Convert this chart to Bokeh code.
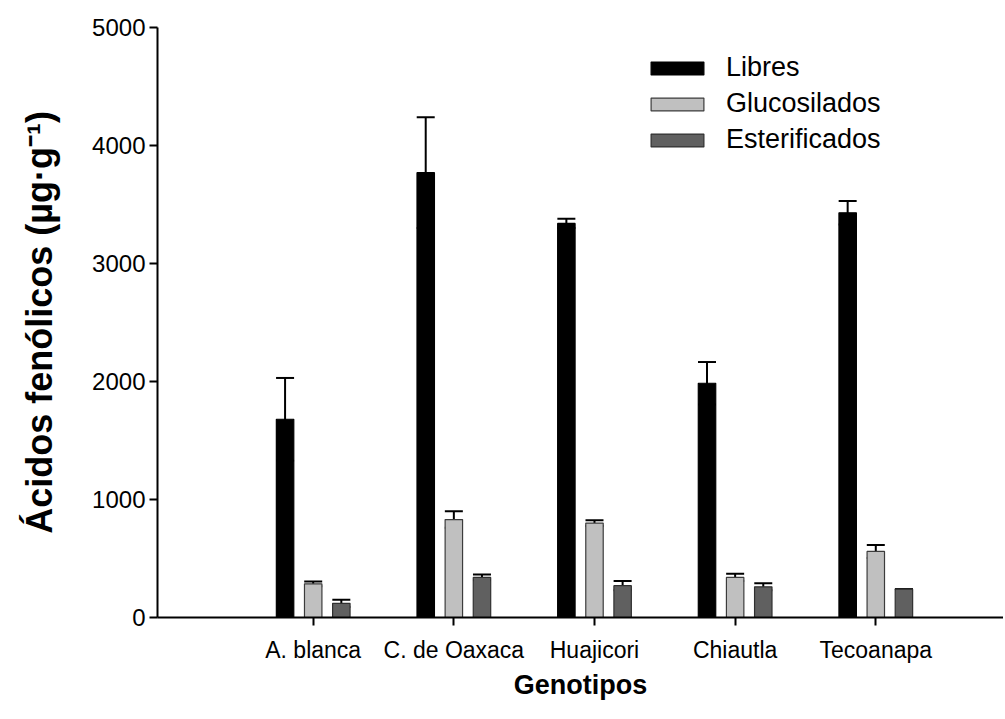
from bokeh.plotting import figure
from bokeh.models import Range1d, FixedTicker, Whisker, TeeHead, ColumnDataSource, Legend, LegendItem
from bokeh.embed import file_html
from bokeh.resources import INLINE

genotipos = ["A. blanca", "C. de Oaxaca", "Huajicori", "Chiautla", "Tecoanapa"]
series_names = ["Libres", "Glucosilados", "Esterificados"]
libres = [1680, 3770, 3340, 1985, 3430]
libres_err = [350, 470, 40, 180, 100]
glucosilados = [285, 830, 800, 340, 560]
glucosilados_err = [20, 70, 25, 30, 55]
esterificados = [120, 340, 270, 260, 240]
esterificados_err = [30, 25, 40, 30, 0]
y_ticks = [0, 1000, 2000, 3000, 4000, 5000]

FONT = "Liberation Sans"

p = figure(width=1003, height=715,
           x_range=Range1d(-1.107, 4.908), y_range=Range1d(0, 5000),
           output_backend="svg", toolbar_location=None,
           min_border_left=157, min_border_right=0,
           min_border_top=27, min_border_bottom=98)
p.outline_line_color = None
p.xgrid.visible = False
p.ygrid.visible = False
p.background_fill_color = "white"
p.border_fill_color = "white"

pos = list(range(len(genotipos)))
offsets = [-0.2, 0.0, 0.2]
fills = ["#000000", "#c0c0c0", "#606060"]
lines = ["#000000", "#3c3c3c", "#303030"]
values = [libres, glucosilados, esterificados]
errors = [libres_err, glucosilados_err, esterificados_err]

items = []
for name, off, fc, lc, vals, errs in zip(series_names, offsets, fills, lines, values, errors):
    xs = [i + off for i in pos]
    src = ColumnDataSource(dict(x=xs, top=vals,
                                upper=[v + e for v, e in zip(vals, errs)],
                                lower=[v - e for v, e in zip(vals, errs)]))
    r = p.vbar(x="x", top="top", bottom=0, width=0.124, source=src,
               fill_color=fc, line_color=lc, line_width=1.2)
    items.append(LegendItem(label=name, renderers=[r]))
    w = Whisker(base="x", upper="upper", lower="lower", source=src,
                dimension="height", line_color="black", line_width=2,
                upper_head=TeeHead(size=18, line_color="black", line_width=2),
                lower_head=TeeHead(size=18, line_color="black", line_width=2))
    p.add_layout(w)

# axes
p.xaxis.ticker = FixedTicker(ticks=pos)
p.xaxis.major_label_overrides = {i: g for i, g in zip(pos, genotipos)}
p.yaxis.ticker = FixedTicker(ticks=y_ticks)
for ax in (p.xaxis[0], p.yaxis[0]):
    ax.axis_line_width = 2
    ax.axis_line_color = "black"
    ax.major_tick_line_width = 2
    ax.major_tick_line_color = "black"
    ax.major_tick_out = 8
    ax.major_tick_in = 0
    ax.minor_tick_line_color = None
    ax.major_label_text_font = FONT
    ax.major_label_text_color = "black"
    ax.axis_label_text_font = FONT
    ax.axis_label_text_font_style = "bold"
    ax.axis_label_text_color = "black"

p.xaxis.major_label_text_font_size = "23px"
p.xaxis.major_label_standoff = 11
p.xaxis.axis_label = "Genotipos"
p.xaxis.axis_label_text_font_size = "27px"
p.xaxis.axis_label_standoff = 4

p.yaxis.major_label_text_font_size = "24px"
p.yaxis.major_label_standoff = 4
p.yaxis.axis_label = "Ácidos fenólicos (µg·g⁻¹)"
p.yaxis.axis_label_text_font_size = "36px"
p.yaxis.axis_label_standoff = 29

legend = Legend(items=items, location=(487, 462), orientation="vertical",
                glyph_width=66, glyph_height=16, label_height=16,
                spacing=5, padding=0, margin=0, label_standoff=16,
                label_text_font=FONT, label_text_font_size="27px",
                label_text_color="black",
                border_line_color=None, background_fill_alpha=0)
p.add_layout(legend)

open("out.html", "w").write(file_html(p, INLINE))
